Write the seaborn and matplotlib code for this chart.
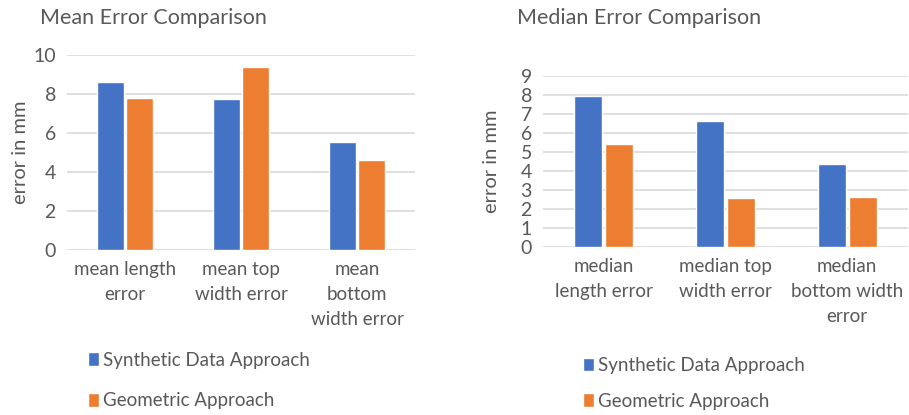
import pandas as pd
import matplotlib.pyplot as plt
import seaborn as sns

# werte
mean_cats = ["mean length\nerror", "mean top\nwidth error", "mean\nbottom\nwidth error"]
mean_synthetic = [8.63, 7.74, 5.52]
mean_geometric = [7.81, 9.40, 4.60]

median_cats = ["median\nlength error", "median top\nwidth error", "median\nbottom width\nerror"]
median_synthetic = [7.95, 6.65, 4.38]
median_geometric = [5.43, 2.58, 2.62]

series = ["Synthetic Data Approach", "Geometric Approach"]
colors = ["#4472C4", "#ED7D31"]
grey = "#595959"

sns.set_theme(style="white")
plt.rcParams['font.family'] = ['Lato', 'DejaVu Sans']


def long_df(cats, a, b):
    return pd.DataFrame({
        "cat": cats * 2,
        "val": a + b,
        "series": [series[0]] * len(cats) + [series[1]] * len(cats),
    })


def draw(ax, df, yticks, legend_pos, spacing, ylabelpad):
    sns.barplot(data=df, x="cat", y="val", hue="series", palette=colors,
                width=0.51, gap=0.1, ax=ax, saturation=1, zorder=3)
    ax.set_ylim(0, yticks[-1])
    ax.set_yticks(yticks)
    ax.grid(axis="y", color="#D9D9D9", linewidth=1.2, zorder=0)
    ax.set_axisbelow(True)
    sns.despine(ax=ax, left=True, bottom=True)
    ax.tick_params(axis="both", length=0, colors=grey)
    ax.tick_params(axis="y", labelsize=14, pad=8)
    ax.tick_params(axis="x", labelsize=13.5, pad=8)
    for t in ax.get_xticklabels():
        t.set_linespacing(1.55)
    ax.set_xlabel("")
    ax.set_ylabel("error in mm", color=grey, fontsize=14.5, labelpad=ylabelpad)
    ax.legend(loc="center left", bbox_to_anchor=legend_pos, frameon=False,
              handlelength=0.6, handleheight=0.75, handletextpad=0.2,
              labelspacing=spacing, fontsize=13.5, labelcolor=grey)


fig = plt.figure(figsize=(9.09, 4.15), dpi=100)
ax1 = fig.add_axes([67 / 909, 1 - 250 / 415, 348 / 909, 195 / 415])
ax2 = fig.add_axes([543 / 909, 1 - 247 / 415, 365 / 909, 171 / 415])

draw(ax1, long_df(mean_cats, mean_synthetic, mean_geometric),
     [0, 2, 4, 6, 8, 10], (0.011, -0.669), 1.25, 3)
draw(ax2, long_df(median_cats, median_synthetic, median_geometric),
     list(range(10)), (0.063, -0.798), 1.0, 15)

fig.text(40 / 909, 1 - 18 / 415, "Mean Error Comparison", color=grey,
         fontsize=15.5, va="center", ha="left")
fig.text(517 / 909, 1 - 18 / 415, "Median Error Comparison", color=grey,
         fontsize=15.5, va="center", ha="left")

fig.savefig("out.png", dpi=100)
